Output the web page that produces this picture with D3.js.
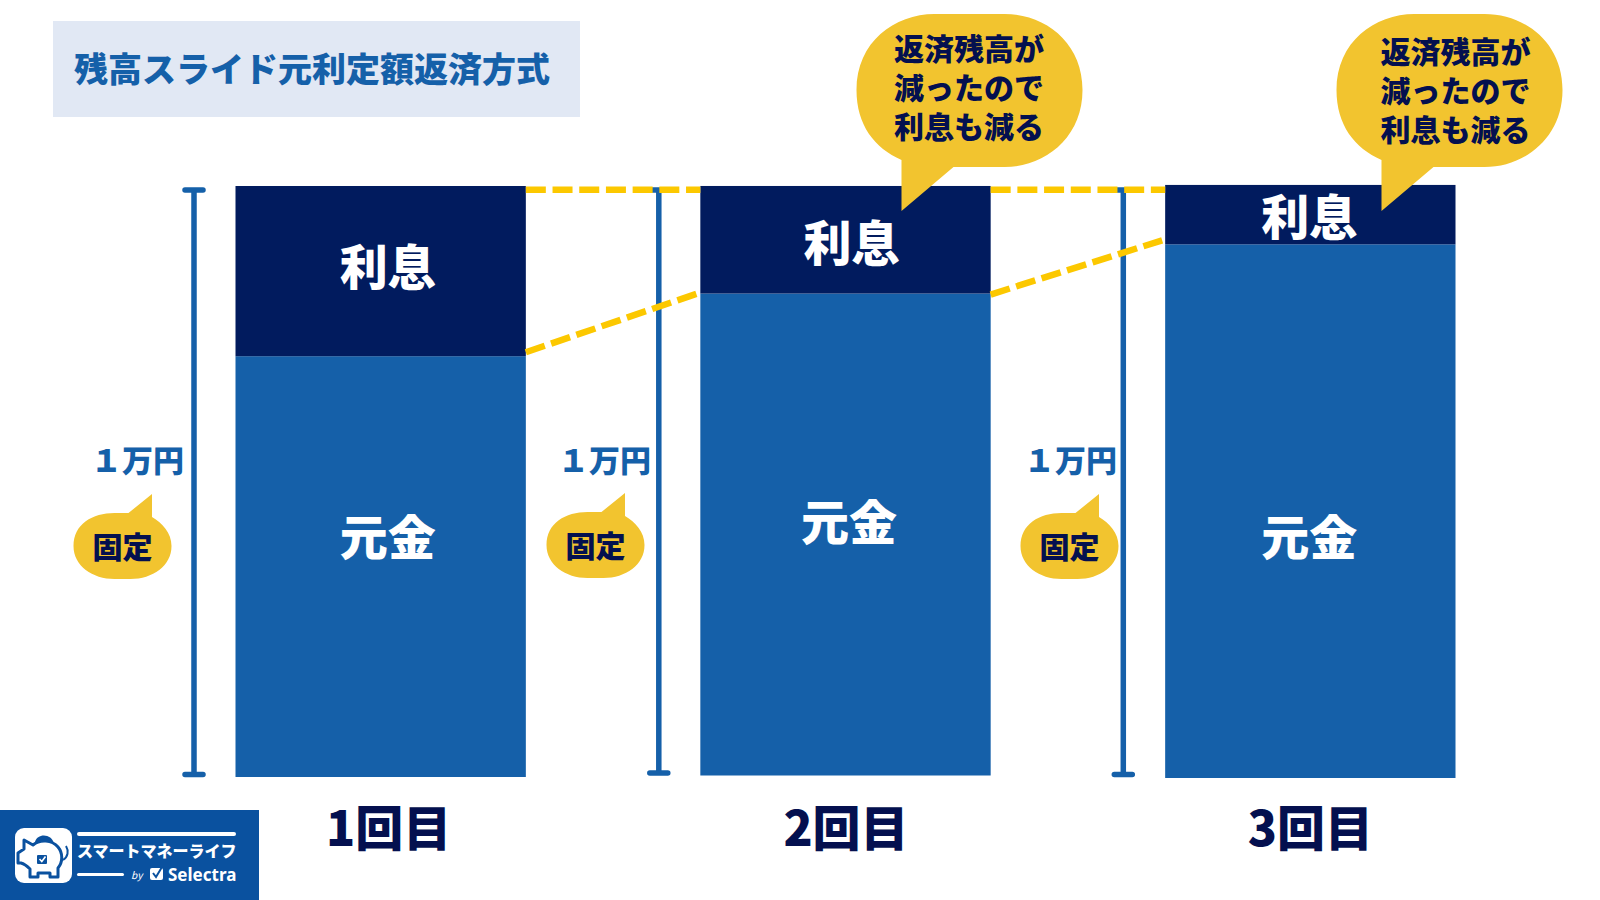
<!DOCTYPE html>
<html lang="ja">
<head>
<meta charset="utf-8">
<script src="https://cdnjs.cloudflare.com/ajax/libs/d3/7.8.5/d3.min.js"></script>
<style>
html,body{margin:0;padding:0;background:#fff;}
svg{display:block;}
text{font-family:"Noto Sans CJK JP","Noto Sans",sans-serif;}
</style>
</head>
<body>
<svg id="chart" width="1600" height="900"></svg>
<script>
// Repayment figures per instalment (yen): the total is fixed, interest shrinks each time
const categories = ["1回目", "2回目", "3回目"];
const principal = [7120, 8155, 9030];
const interest = [2880, 1820, 1005];
const seriesNames = ["元金", "利息"];
const fixedLabel = "１万円";
const fixedTag = "固定";
const titleText = "残高スライド元利定額返済方式";
const noteLines = ["返済残高が", "減ったので", "利息も減る"];

const NAVY = "#011b5e", BLUE = "#1560a9", YELLOW = "#f2c42f", DASH = "#fcc800", INK = "#04104f", BADGE = "#0a519f";
const svg = d3.select("#chart");

const x = d3.scaleBand().domain(categories).range([235.5, 1455.5]).paddingInner(0.3754).paddingOuter(0);
const y = d3.scaleLinear().domain([0, 10000]).range([777, 186]);
const right = d => x(d) + x.bandwidth();
const mid = d => x(d) + x.bandwidth() / 2;

// Per-column layout offsets
const barNudge = [0, -1.5, 1];
const labelDx = [7, 6, -1];
const principalDx = [7, 3.5, -1];
const principalBase = [554.5, 540, 554.5];
const interestBase = [285, 260.5, 235];
const categoryDx = [8, 0.5, 0];
const bracketX = [194, 658.8, 1123.3];
const bracketBottom = [774.5, 773, 774.5];
const fixedLabelEnd = [184, 651, 1117];
const tagCentre = [[122.5, 546], [595.5, 545], [1069.5, 546]];
const noteCentre = [[969.5, 90], [1449.5, 90]];
const noteTextPos = [[-75.5, 0], [-69, 3]];

// Title panel
svg.append("rect").attr("x", 53).attr("y", 21).attr("width", 527).attr("height", 96).attr("fill", "#e1e8f4");
svg.append("text").attr("x", 74).attr("y", 82).attr("font-size", 34).attr("font-weight", 900)
  .attr("fill", BLUE).text(titleText);

// Fixed-amount brackets with their labels and tags
bracketX.forEach((bx, i) => {
  const g = svg.append("g");
  g.append("path").attr("d", `M${bx - 9},190H${bx + 9}M${bx},190V${bracketBottom[i]}M${bx - 9},${bracketBottom[i]}H${bx + 9}`)
    .attr("fill", "none").attr("stroke", BLUE).attr("stroke-width", 5.5).attr("stroke-linecap", "round");
  g.append("text").attr("x", fixedLabelEnd[i]).attr("y", 472).attr("text-anchor", "end").attr("font-size", 31)
    .attr("font-weight", 900).attr("fill", BLUE).text(fixedLabel);
  const t = g.append("g").attr("transform", `translate(${tagCentre[i][0]},${tagCentre[i][1]})`);
  t.append("path").attr("fill", YELLOW)
    .attr("d", "M-49,0C-49,-22 -30,-33 -8,-33H6L29.5,-52V-29C40,-23 49,-13 49,0C49,20 30,33 8,33H-8C-30,33 -49,20 -49,0Z");
  t.append("text").attr("y", 12).attr("text-anchor", "middle").attr("font-size", 30).attr("font-weight", 900)
    .attr("fill", INK).text(fixedTag);
});

// Stacked columns
const columns = svg.append("g").selectAll("g").data(categories).join("g");
columns.append("rect").attr("x", d => x(d)).attr("width", x.bandwidth())
  .attr("y", (d, i) => y(principal[i]) + barNudge[i]).attr("height", (d, i) => y(0) - y(principal[i])).attr("fill", BLUE);
columns.append("rect").attr("x", d => x(d)).attr("width", x.bandwidth())
  .attr("y", (d, i) => y(principal[i] + interest[i]) + barNudge[i])
  .attr("height", (d, i) => y(principal[i]) - y(principal[i] + interest[i])).attr("fill", NAVY);
columns.append("text").attr("x", (d, i) => mid(d) + principalDx[i]).attr("y", (d, i) => principalBase[i])
  .attr("text-anchor", "middle").attr("font-size", 48).attr("font-weight", 900).attr("fill", "#fff").text(seriesNames[0]);
columns.append("text").attr("x", (d, i) => mid(d) + labelDx[i]).attr("y", (d, i) => interestBase[i])
  .attr("text-anchor", "middle").attr("font-size", 48).attr("font-weight", 900).attr("fill", "#fff").text(seriesNames[1]);

// Dashed guides tying the column tops and the principal/interest boundaries together
const guide = svg.append("g").attr("stroke", DASH).attr("stroke-width", 6.5).attr("stroke-dasharray", "20 6.7").attr("fill", "none");
const slopeEnds = [[-4, 0], [1, -4]];
categories.slice(1).forEach((c, i) => {
  const p = categories[i];
  guide.append("line").attr("x1", right(p)).attr("x2", x(c)).attr("y1", 189.7).attr("y2", 189.7);
  guide.append("line").attr("x1", right(p)).attr("x2", x(c) - 3)
    .attr("y1", y(principal[i]) + barNudge[i] + slopeEnds[i][0])
    .attr("y2", y(principal[i + 1]) + barNudge[i + 1] + slopeEnds[i][1]);
});

// Category labels
svg.append("g").selectAll("text").data(categories).join("text")
  .attr("x", (d, i) => mid(d) + categoryDx[i]).attr("y", 846)
  .attr("text-anchor", "middle").attr("font-size", 48).attr("font-weight", 900).attr("fill", INK).text(d => d);

// Speech bubbles above the later columns
noteCentre.forEach(([cx, cy], i) => {
  const t = svg.append("g").attr("transform", `translate(${cx},${cy})`);
  t.append("path").attr("fill", YELLOW)
    .attr("d", "M-113,0C-113,-48 -75,-76 -35,-76H35C75,-76 113,-48 113,0C113,48 75,77 35,77H-16L-68,121V70C-95,58 -113,35 -113,0Z");
  noteLines.forEach((ln, j) => {
    t.append("text").attr("x", noteTextPos[i][0]).attr("y", -30 + noteTextPos[i][1] + j * 39)
      .attr("font-size", 30).attr("font-weight", 900).attr("fill", INK).text(ln);
  });
});

// Brand badge
const logo = svg.append("g");
logo.append("rect").attr("x", 0).attr("y", 810).attr("width", 259).attr("height", 90).attr("fill", BADGE);
logo.append("rect").attr("x", 15).attr("y", 828).attr("width", 57).attr("height", 55).attr("rx", 9).attr("fill", "#fff");
// Piggy bank: coin bump, outlined body, tail and check box
logo.append("path").attr("fill", BADGE).attr("d", "M35,842C37,833 52,833 54,844Z");
logo.append("path").attr("fill", "#fff").attr("stroke", BADGE).attr("stroke-width", 3).attr("stroke-linejoin", "round")
  .attr("d", "M24,840L33,845C40,839 52,840 58,847C63,853 63,862 58,868V877H50V873H38V877H30V869C27,866 25,864 21,863H18V853L24,849Z");
logo.append("path").attr("fill", "none").attr("stroke", BADGE).attr("stroke-width", 2).attr("d", "M63,860C68,857 69,851 66,846");
logo.append("rect").attr("x", 37).attr("y", 855).attr("width", 10).attr("height", 9).attr("rx", 1).attr("fill", BADGE);
logo.append("path").attr("fill", "none").attr("stroke", "#fff").attr("stroke-width", 1.6).attr("d", "M39.5,859L41.8,861.5L45.5,856.5");
logo.append("rect").attr("x", 77).attr("y", 832).attr("width", 159).attr("height", 4).attr("rx", 2).attr("fill", "#fff");
logo.append("rect").attr("x", 77).attr("y", 873).attr("width", 47).attr("height", 3).attr("rx", 1.5).attr("fill", "#fff");
logo.append("text").attr("x", 77).attr("y", 857).attr("font-size", 16).attr("font-weight", 900).attr("fill", "#fff").text("スマートマネーライフ");
logo.append("text").attr("x", 131).attr("y", 879).attr("font-size", 10).attr("font-style", "italic").attr("fill", "#fff").text("by");
logo.append("rect").attr("x", 150).attr("y", 868).attr("width", 13).attr("height", 12).attr("rx", 2).attr("fill", "#fff");
logo.append("path").attr("fill", "none").attr("stroke", BADGE).attr("stroke-width", 2).attr("d", "M153,873L156,877L162,867");
logo.append("text").attr("x", 168).attr("y", 881).attr("font-size", 17).attr("font-weight", 700).attr("fill", "#fff").attr("style", "font-family:'Noto Sans',sans-serif").text("Selectra");
</script>
</body>
</html>
